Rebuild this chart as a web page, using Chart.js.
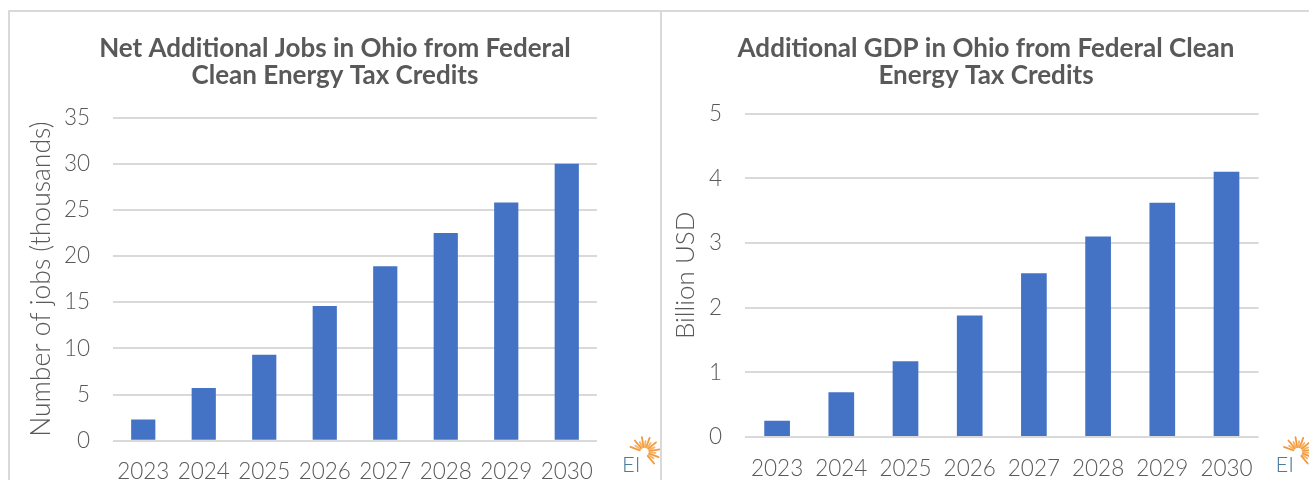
<!DOCTYPE html>
<html><head><meta charset="utf-8">
<script src="https://cdn.jsdelivr.net/npm/chart.js@4.4.1/dist/chart.umd.min.js"></script>
<style>
html,body{margin:0;padding:0;background:#fff;width:1309px;height:480px;overflow:hidden;position:relative;font-family:Lato,sans-serif}
.c{position:absolute;top:0;height:480px}
#l{left:10px;width:650px}
#r{left:663px;width:646px}
.ln{position:absolute;background:#d9d9d9}
</style></head><body>
<div class="ln" style="left:8px;top:10px;width:1301px;height:2px"></div>
<div class="ln" style="left:8px;top:10px;width:2px;height:470px"></div>
<div class="ln" style="left:660px;top:10px;width:2px;height:470px"></div>
<div class="c" id="l"><canvas id="cl"></canvas></div>
<div class="c" id="r"><canvas id="cr"></canvas></div>
<script>
const years = ['2023','2024','2025','2026','2027','2028','2029','2030'];
const jobs = [2.3, 5.7, 9.3, 14.6, 18.9, 22.5, 25.8, 30.0];
const gdp = [0.25, 0.69, 1.17, 1.88, 2.53, 3.10, 3.62, 4.10];
const jobsTicks = [0, 5, 10, 15, 20, 25, 30, 35];
const gdpTicks = [0, 1, 2, 3, 4, 5];
const jobsTitle = ['Net Additional Jobs in Ohio from Federal', 'Clean Energy Tax Credits'];
const gdpTitle = ['Additional GDP in Ohio from Federal Clean', 'Energy Tax Credits'];
const jobsAxis = 'Number of jobs (thousands)';
const gdpAxis = 'Billion USD';

const GREY = '#595959';
const GRID = '#d9d9d9';
const BAR = '#4472c4';
const LIGHT = 'Lato';

const logo = {
  id: 'logo',
  afterDraw(chart, args, o) {
    const ctx = chart.ctx, ca = chart.chartArea;
    const x = ca.right + o.dx;
    ctx.save();
    ctx.font = '300 22px Lato';
    ctx.fillStyle = '#4e7a9c';
    ctx.textBaseline = 'alphabetic';
    ctx.textAlign = 'left';
    ctx.fillText('EI', x, 472);
    const w = ctx.measureText('EI').width;
    const cx = x + w + 4, cy = 452;
    ctx.lineCap = 'round';
    let i = 0;
    for (let a = 160; a >= -60; a -= 15) {
      const r = Math.PI * a / 180;
      const r1 = 5, r2 = (i % 2 === 0) ? 15 : 11;
      ctx.strokeStyle = (i % 2 === 0) ? '#f39a3d' : '#f7b267';
      ctx.lineWidth = 1.8;
      ctx.beginPath();
      ctx.moveTo(cx + r1 * Math.cos(r), cy - r1 * Math.sin(r));
      ctx.lineTo(cx + r2 * Math.cos(r), cy - r2 * Math.sin(r));
      ctx.stroke();
      i++;
    }
    ctx.restore();
  }
};

function make(id, values, ticks, title, axisTitle, L) {
  return new Chart(document.getElementById(id), {
    type: 'bar',
    data: { labels: years, datasets: [{ data: values, backgroundColor: BAR, borderWidth: 0,
      barPercentage: 0.8, categoryPercentage: 0.5 }] },
    plugins: [logo],
    options: {
      responsive: true, maintainAspectRatio: false, animation: false, devicePixelRatio: 1,
      layout: { padding: 0 },
      plugins: {
        legend: { display: false }, tooltip: { enabled: false },
        title: { display: true, text: title, color: GREY,
          font: { family: 'Lato', size: 26, weight: 'bold', lineHeight: 1.05 },
          padding: { top: L.tTop, bottom: L.tBottom } },
        logo: { dx: L.logoDx }
      },
      scales: {
        x: {
          grid: { display: false }, border: { display: false },
          ticks: { color: GREY, padding: L.xPad, maxRotation: 0, autoSkip: false,
            font: { family: LIGHT, size: 22.5, weight: '300' } },
          afterFit(s) { s.height = L.xH; }
        },
        y: {
          min: ticks[0], max: ticks[ticks.length - 1],
          afterBuildTicks(s) { s.ticks = ticks.map(v => ({ value: v })); },
          grid: { color: GRID, lineWidth: 2, drawTicks: false },
          border: { display: false },
          ticks: { color: GREY, padding: L.yPad, font: { family: LIGHT, size: 22.5, weight: '300' } },
          title: { display: true, text: axisTitle, color: GREY,
            font: { family: LIGHT, size: L.yTitleSize, weight: '300', lineHeight: 1.2 },
            padding: { top: L.yTitlePad, bottom: 0 } },
          afterFit(s) { s.width = L.yW; }
        },
        pad: {
          type: 'linear', position: 'right', display: true,
          grid: { display: false }, border: { display: false },
          ticks: { display: false },
          afterFit(s) { s.width = L.rightW; }
        }
      }
    }
  });
}

make('cl', jobs, jobsTicks, jobsTitle, jobsAxis,
  { tTop: 35, tBottom: 28, xPad: 10, xH: 39.3, yPad: 23, yW: 103, yTitleSize: 26.5, yTitlePad: 16, rightW: 63, logoDx: 25 });
make('cr', gdp, gdpTicks, gdpTitle, gdpAxis,
  { tTop: 35, tBottom: 24, xPad: 10, xH: 43, yPad: 23, yW: 82, yTitleSize: 26, yTitlePad: 7.5, rightW: 50.4, logoDx: 17 });
</script>
</body></html>
